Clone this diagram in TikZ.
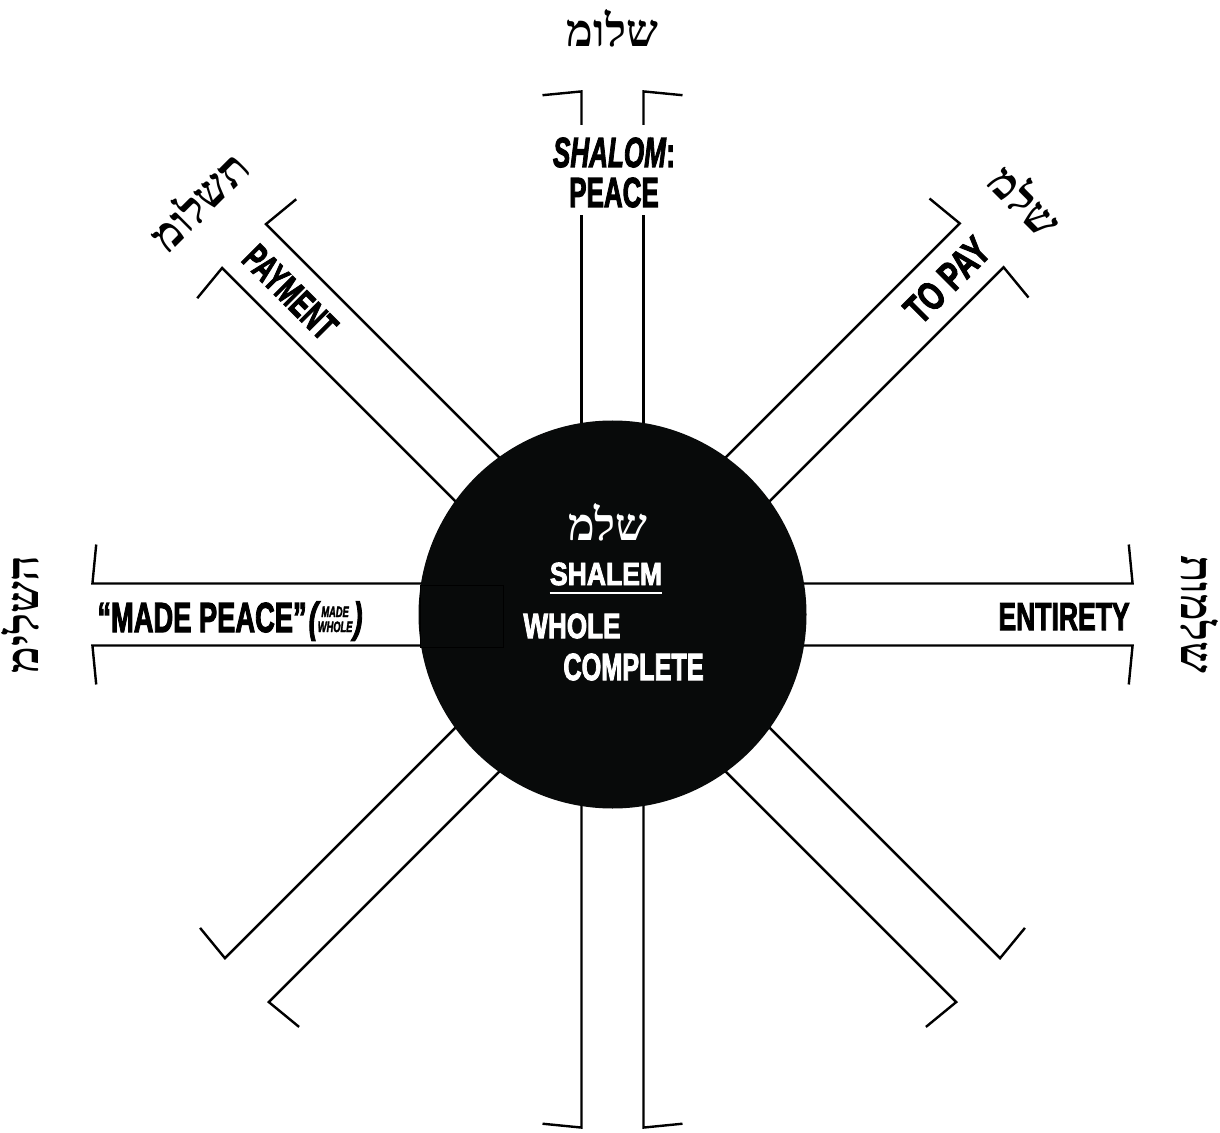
\documentclass[tikz,border=0pt]{standalone}
\usepackage{fontspec}
\usepackage{graphicx}
\setmainfont{Liberation Sans}[BoldFeatures={FakeBold=3},BoldItalicFeatures={FakeBold=3}]
\newfontfamily\heb[Script=Hebrew]{Liberation Serif}
\TeXXeTstate=1
\definecolor{ink}{HTML}{080A0A}
\newcommand\cnd[2]{\scalebox{#1}[1]{#2}}
\newcommand\fs[1]{\fontsize{#1}{#1}\selectfont}
\begin{document}
\begin{tikzpicture}[x=0.5pt,y=-0.5pt,
  arm/.style={line width=1.2pt,line cap=butt,line join=miter},
  lab/.style={inner sep=0pt,font=\bfseries},
  hebl/.style={inner sep=0pt,anchor=base,font=\heb\bfseries\fs{22.5}}]
\useasboundingbox (0,0) rectangle (1220,1133);
\coordinate (c) at (612.5,614.5);
% arms
\foreach \a/\R in {0/521,45/523,135/522,180/521,225/518,270/514,315/518}{
  \pgfmathsetmacro\xe{\R*sqrt(1-(31/\R)*(31/\R))}
  \pgfmathsetmacro\xt{\R*sqrt(1-(70/\R)*(70/\R))}
  \begin{scope}[shift={(c)},rotate=\a]
    \draw[arm] (185,31) -- (\xe,31) -- (\xt,70);
    \draw[arm] (185,-31) -- (\xe,-31) -- (\xt,-70);
  \end{scope}
}
\pgfmathsetmacro\xe{524*sqrt(1-(31/524)*(31/524))}
\pgfmathsetmacro\xt{524*sqrt(1-(70/524)*(70/524))}
\begin{scope}[shift={(c)},rotate=90]
  \draw[arm] (185,31) -- (399.5,31);
  \draw[arm] (185,-31) -- (399.5,-31);
  \draw[arm] (489.5,31) -- (\xe,31) -- (\xt,70);
  \draw[arm] (489.5,-31) -- (\xe,-31) -- (\xt,-70);
\end{scope}
% hub
\node[circle,fill=ink,inner sep=0pt,minimum size=194pt] (hub) at (c) {};
\draw[black,line width=0.5pt] (420,585) rectangle (503,647);
% hebrew outer labels
\node[hebl] (hTop) at (612.5,46.5) {\beginR שלומ\endR};
\node[hebl,rotate=45] (hTL) at (210.9,212.9) {\beginR תשלומ\endR};
\node[hebl,rotate=-45] (hTR) at (1014.1,212.9) {\beginR שלמ\endR};
\node[hebl,rotate=90] (hL) at (38.5,614.5) {\beginR השלימ\endR};
\node[hebl,rotate=-90] (hR) at (1181,614.5) {\beginR שלמות\endR};
% english arm labels
\node[lab,anchor=base] (shalom) at (614,167) {\fs{21}\cnd{0.62}{\textit{SHALOM}:}};
\node[lab,anchor=base] (peace) at (614,207) {\fs{21}\cnd{0.62}{PEACE}};
\node[lab,rotate=-45] (payment) at (290.1,292.1) {\fs{19}\cnd{0.64}{PAYMENT}};
\node[lab,rotate=45] (topay) at (947,280) {\fs{20}\cnd{0.72}{TO PAY}};
\node[lab,anchor=base east] (entirety) at (1130,630) {\fs{19.5}\cnd{0.68}{ENTIRETY}};
\node[lab,anchor=base west] (madepeace) at (97,632) {\fs{21}\cnd{0.65}{“MADE PEACE”}\hspace{1pt}\cnd{0.65}{\itshape(}{\fs{7.5}\cnd{0.62}{\itshape\begin{tabular}[b]{@{}c@{}}MADE\\WHOLE\end{tabular}}}\hspace{0.5pt}\cnd{0.65}{\itshape)}};
% centre
\node[hebl,text=white] (hC) at (608,540) {\beginR שלמ\endR};
\node[lab,anchor=base,text=white] (shalem) at (606,585) {\fs{16}\cnd{0.83}{SHALEM}};
\draw[white,line width=1pt] ([yshift=-4pt]shalem.base west) -- ([yshift=-4pt]shalem.base east);
\node[lab,anchor=base west,text=white] (whole) at (523,638) {\fs{17.5}\cnd{0.745}{WHOLE}};
\node[lab,anchor=base west,text=white] (complete) at (563,680) {\fs{18.9}\cnd{0.668}{COMPLETE}};
\end{tikzpicture}
\end{document}
